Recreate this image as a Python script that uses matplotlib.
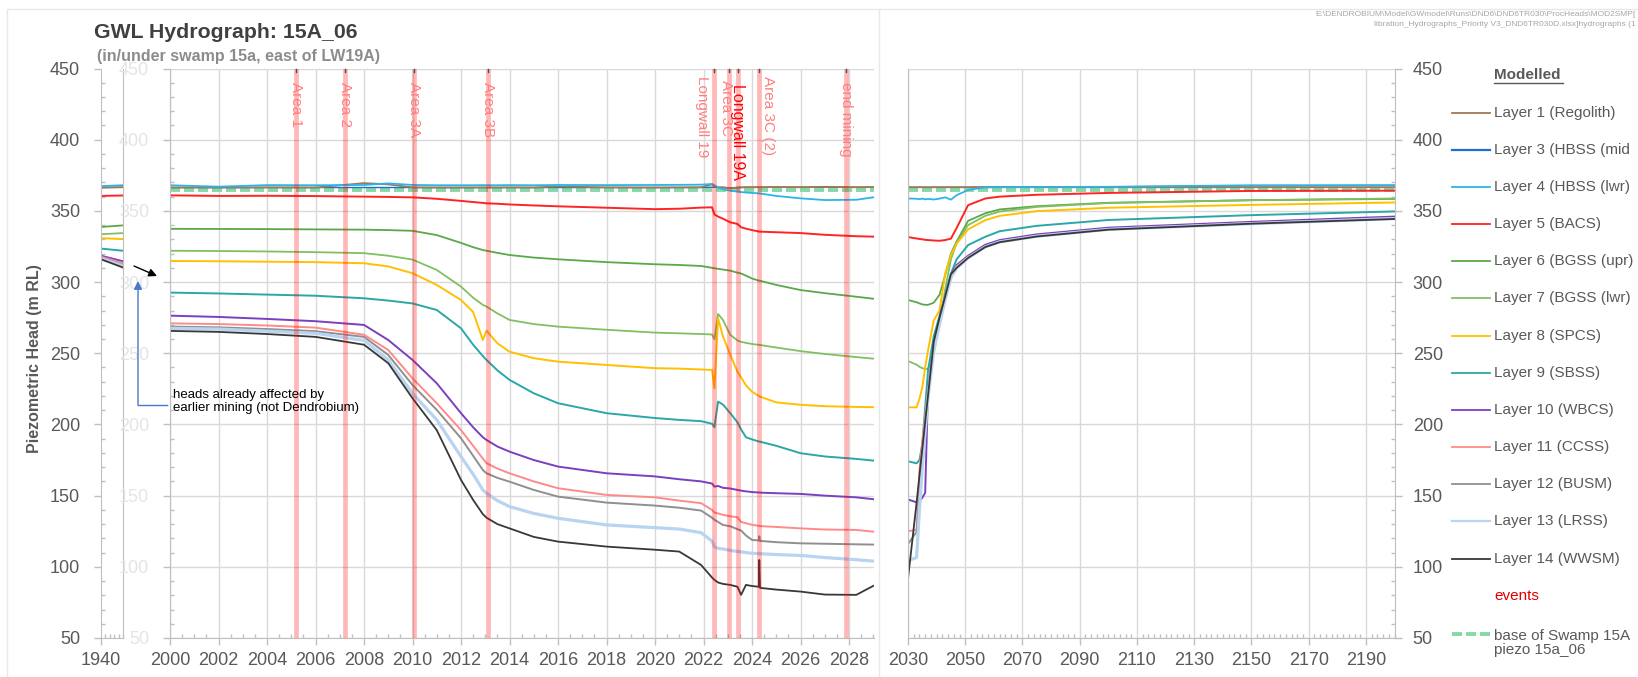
import matplotlib
matplotlib.use("Agg")
import matplotlib.pyplot as plt
from matplotlib.lines import Line2D
from matplotlib.patches import Rectangle
from matplotlib.ticker import MultipleLocator, FixedLocator

plt.rcParams['font.family'] = ['Liberation Sans', 'DejaVu Sans']

W, H = 1638, 677

# time axes of the three panels (pre-mining stub, mining period, recovery)
t_pre = [1940, 1945]
t_main = [2000, 2002, 2004, 2006, 2008, 2009, 2010, 2011, 2012, 2012.5,
          2012.9, 2013.05, 2013.5, 2014, 2015, 2016, 2018, 2020, 2021, 2021.9,
          2022.35, 2022.45, 2022.6, 2022.8, 2023.1, 2023.4, 2023.55, 2023.75,
          2024.0, 2024.28, 2024.3, 2024.33, 2025, 2026, 2027, 2028.3, 2029]
t_post = [2030, 2033, 2034, 2035, 2036, 2037, 2039, 2041, 2043, 2045, 2047,
          2051, 2057, 2062, 2075, 2100, 2150, 2200]

# modelled heads (m RL): (pre, main, post)
L1 = ([366.3, 366.6],
      [366.4, 366.4, 366.5, 366.4, 369.5, 368.6, 366.5, 366.4, 366.4, 366.4,
       366.5, 366.4, 366.4, 366.5, 366.4, 367.2, 366.5, 366.4, 366.5, 366.6,
       368.6, 367.0, 366.5, 366.5, 366.0, 366.4, 366.5, 366.6, 366.6, 366.6,
       366.6, 366.6, 366.8, 366.6, 366.9, 366.6, 366.7],
      [366.6, 366.5, 366.7, 366.5, 366.6, 366.5, 366.6, 366.6, 366.6, 366.6,
       366.6, 366.6, 366.6, 366.6, 366.6, 366.6, 366.6, 366.6])
L3 = ([366.4, 366.6],
      [366.4, 366.4, 366.4, 366.4, 366.4, 366.4, 366.4, 366.4, 366.4, 366.4,
       366.4, 366.4, 366.4, 366.4, 366.4, 366.4, 366.4, 366.4, 366.4, 366.4,
       366.6, 366.6, 366.5, 366.5, 366.0, 366.4, 366.5, 366.6, 366.6, 366.6,
       366.6, 366.6, 366.6, 366.6, 366.6, 366.6, 366.6],
      [366.6, 366.6, 366.6, 366.6, 366.6, 366.6, 366.6, 366.6, 366.6, 366.6,
       366.6, 366.6, 366.7, 366.8, 366.8, 366.9, 367.6, 367.8])
L4 = ([367.4, 368.0],
      [368.0, 367.0, 368.1, 368.0, 368.2, 369.3, 368.2, 368.0, 368.0, 368.0,
       368.1, 368.0, 368.0, 368.1, 368.0, 368.2, 368.1, 368.2, 368.3, 368.4,
       368.9, 368.0, 366.5, 365.2, 364.2, 363.5, 363.2, 362.9, 362.6, 362.3,
       362.3, 362.2, 360.5, 358.8, 357.6, 357.8, 359.5],
      [358.7, 358.5, 358.2, 358.6, 358.1, 358.4, 358.0, 358.6, 359.5, 357.9,
       361.0, 364.7, 366.5, 366.7, 366.8, 366.9, 368.0, 368.1])
L5 = ([360.5, 360.8],
      [360.9, 360.5, 360.6, 360.4, 360.0, 359.8, 359.5, 358.5, 357.0, 356.2,
       355.6, 355.3, 355.0, 354.5, 353.8, 353.2, 352.2, 351.2, 351.5, 352.3,
       352.5, 347.5, 346.0, 344.5, 342.0, 340.8, 338.5, 337.5, 336.5, 335.5,
       335.4, 335.4, 335.0, 334.4, 333.2, 332.2, 331.9],
      [331.6, 330.6, 330.3, 330.0, 329.7, 329.5, 329.2, 329.0, 329.5, 330.5,
       338.0, 354.0, 358.7, 360.0, 361.3, 362.6, 364.0, 364.2])
L6 = ([338.7, 339.8],
      [337.4, 337.3, 337.2, 337.0, 336.8, 336.5, 336.0, 333.0, 327.5, 324.5,
       322.5, 322.0, 320.5, 319.0, 317.2, 316.0, 314.0, 312.5, 312.0, 311.3,
       310.0, 309.7, 309.3, 308.8, 308.0, 306.6, 306.0, 304.5, 302.5, 301.0,
       301.0, 300.9, 298.0, 294.4, 292.2, 289.7, 288.3],
      [287.4, 285.8, 285.0, 284.3, 284.0, 284.0, 285.5, 291.0, 305.0, 320.0,
       328.5, 343.0, 348.3, 351.0, 353.3, 355.7, 357.5, 358.4])
L7 = ([333.6, 334.4],
      [322.0, 321.8, 321.5, 321.0, 320.3, 318.5, 315.8, 308.5, 296.8, 289.0,
       284.0, 282.8, 278.0, 273.4, 270.5, 268.7, 266.5, 264.5, 264.0, 263.5,
       263.2, 259.8, 277.6, 273.4, 263.0, 259.0, 258.0, 257.3, 256.5, 255.9,
       255.8, 255.8, 254.0, 251.5, 249.5, 247.3, 246.2],
      [244.5, 242.0, 240.5, 239.5, 239.0, 239.0, 250.0, 270.0, 295.0, 316.0,
       327.5, 340.0, 346.5, 349.5, 352.8, 355.5, 357.5, 358.7])
L8 = ([330.8, 330.2],
      [314.8, 314.6, 314.3, 314.0, 313.2, 311.0, 306.2, 298.0, 287.4, 279.0,
       259.3, 265.9, 257.0, 251.1, 246.5, 244.1, 241.8, 239.5, 239.2, 238.6,
       238.3, 225.4, 274.5, 262.0, 249.0, 237.0, 233.0, 227.5, 223.0, 220.0,
       219.8, 219.5, 215.5, 213.8, 212.8, 212.3, 212.1],
      [212.1, 212.0, 218.0, 226.0, 240.0, 252.0, 273.0, 280.0, 306.0, 319.0,
       327.0, 337.0, 343.5, 346.5, 349.8, 352.2, 354.2, 355.9])
L9 = ([323.5, 322.0],
      [292.6, 292.0, 291.2, 290.4, 288.6, 287.0, 285.0, 280.4, 267.5, 256.0,
       248.0, 245.3, 238.0, 231.3, 221.9, 214.9, 207.9, 204.5, 203.2, 202.3,
       200.5, 198.0, 216.0, 214.0, 208.0, 201.5, 196.5, 191.0, 189.5, 188.0,
       188.0, 187.9, 185.0, 179.8, 177.5, 175.8, 174.6],
      [174.1, 172.7, 175.0, 186.0, 212.0, 238.0, 262.0, 276.0, 290.5, 306.0,
       316.0, 326.0, 331.8, 335.7, 339.5, 343.6, 347.0, 349.6])
L10 = ([318.5, 314.6],
       [276.4, 275.5, 274.1, 272.5, 269.9, 259.3, 245.3, 228.9, 207.9, 198.0,
        191.0, 189.1, 184.5, 180.9, 175.0, 170.4, 165.7, 163.5, 161.5, 160.0,
        158.5, 156.3, 156.8, 155.5, 155.0, 154.0, 153.5, 153.0, 152.5, 152.2,
        152.2, 152.1, 151.7, 151.2, 150.0, 148.8, 147.5],
       [147.3, 145.3, 146.0, 148.5, 152.0, 225.0, 256.0, 270.0, 290.0, 305.0,
        312.0, 318.5, 326.2, 329.5, 333.5, 338.2, 342.3, 346.0])
L11 = ([317.8, 313.2],
       [271.0, 270.5, 269.5, 268.0, 263.0, 252.3, 232.4, 214.9, 196.0, 185.0,
        176.0, 172.8, 169.0, 165.7, 160.0, 155.2, 150.5, 148.8, 146.5, 144.7,
        140.0, 138.1, 137.5, 136.5, 135.5, 134.8, 131.5, 130.6, 129.5, 128.8,
        128.7, 128.6, 128.0, 127.0, 126.2, 125.9, 124.7],
       [125.1, 125.8, 168.0, 188.0, 206.0, 223.0, 255.0, 272.0, 289.0, 304.0,
        311.0, 317.5, 325.0, 328.5, 332.5, 337.2, 341.5, 345.0])
L12 = ([317.0, 312.0],
       [268.7, 268.2, 267.0, 265.5, 261.5, 248.8, 227.7, 210.2, 190.3, 178.0,
        168.0, 165.7, 162.5, 159.8, 154.0, 149.3, 145.1, 143.0, 141.5, 139.5,
        134.5, 133.0, 131.5, 129.4, 128.5, 126.4, 125.5, 122.0, 118.9, 118.5,
        121.5, 118.2, 117.3, 116.5, 116.2, 115.8, 115.6],
       [116.0, 124.5, 150.0, 178.0, 200.0, 221.0, 253.0, 271.0, 288.0, 303.5,
        310.5, 317.0, 324.8, 328.3, 332.3, 337.0, 341.2, 344.8])
L13 = ([316.6, 311.2],
       [267.5, 267.0, 265.5, 264.0, 259.0, 245.3, 221.9, 203.2, 177.4, 165.0,
        154.0, 151.7, 146.5, 142.3, 137.5, 134.1, 129.4, 127.5, 126.5, 124.0,
        118.0, 114.0, 113.0, 112.5, 111.5, 110.8, 110.5, 110.0, 109.5, 109.3,
        109.3, 109.2, 108.6, 108.0, 106.5, 105.0, 104.0],
       [104.4, 106.5, 140.0, 170.0, 195.0, 219.0, 252.0, 270.0, 288.0, 303.0,
        310.0, 317.0, 324.7, 328.2, 332.2, 337.0, 341.0, 344.6])
L14 = ([316.0, 310.2],
       [265.7, 265.0, 263.5, 261.5, 256.0, 243.0, 218.4, 196.0, 161.0, 147.0,
        137.0, 134.5, 130.0, 127.0, 121.0, 117.7, 114.2, 112.0, 110.7, 101.3,
        92.5, 90.8, 89.0, 88.0, 87.3, 86.0, 80.3, 87.3, 86.5, 86.0,
        104.8, 85.2, 84.0, 82.6, 80.5, 80.3, 86.6],
       [91.7, 145.0, 164.0, 183.0, 201.7, 220.5, 258.0, 275.0, 290.0, 305.5,
        310.0, 317.0, 324.6, 328.0, 332.0, 336.8, 341.0, 344.3])

swamp_base = 365.0

event_years = [2005.21, 2007.23, 2010.05, 2013.1, 2022.45, 2023.05, 2023.44,
               2024.29, 2027.87]
event_labels = ["Area 1", "Area 2", "Area 3A", "Area 3B", "Longwall 19",
                "Area 3C", "Longwall 19A", "Area 3C (2)", "end mining"]
# label nudges in pixels: (dx, top of text below the 450 line)
event_dx = [0, 0, 0, 0, -12, -3, -1, 9, 0]
event_top = [13, 13, 14, 14, 7, 12, 15, 7, 13]

layers = [
    ("Layer 1 (Regolith)", '#a07a52', 1.3, L1),
    ("Layer 3 (HBSS (mid", '#1f6fd0', 1.0, L3),
    ("Layer 4 (HBSS (lwr)", '#2cb4e8', 1.3, L4),
    ("Layer 5 (BACS)", '#ff2424', 1.4, L5),
    ("Layer 6 (BGSS (upr)", '#5aa84a', 1.3, L6),
    ("Layer 7 (BGSS (lwr)", '#80c060', 1.3, L7),
    ("Layer 8 (SPCS)", '#ffc000', 1.4, L8),
    ("Layer 9 (SBSS)", '#2aa7a7', 1.4, L9),
    ("Layer 10 (WBCS)", '#7a40c0', 1.4, L10),
    ("Layer 11 (CCSS)", '#ff8a8a', 1.4, L11),
    ("Layer 12 (BUSM)", '#8f8f8f', 1.4, L12),
    ("Layer 13 (LRSS)", '#b8d4f0', 2.3, L13),
    ("Layer 14 (WWSM)", '#383838', 1.3, L14),
]
draw_order = [1, 0, 2, 3, 4, 5, 6, 7, 8, 9, 10, 11, 12]

GRID = '#d9d9d9'
SPINE = '#bfbfbf'
TXT = '#595959'
SWAMP = '#86d9a6'
SWAMP_DASH = (2.6, 1.0)


def px_rect(x0, x1, y0=68.5, y1=638.0):
    return [x0 / W, 1 - y1 / H, (x1 - x0) / W, (y1 - y0) / H]


fig = plt.figure(figsize=(W / 100, H / 100), dpi=100)
ax_pre = fig.add_axes(px_rect(101, 123))
ax = fig.add_axes(px_rect(170, 874))
ax_post = fig.add_axes(px_rect(908, 1394.6))

for a in (ax_pre, ax, ax_post):
    a.set_ylim(50, 450)
    a.yaxis.set_major_locator(MultipleLocator(50))
    a.yaxis.set_minor_locator(MultipleLocator(10))
    for s in a.spines.values():
        s.set_color(SPINE)
    a.spines['top'].set_visible(False)
    a.tick_params(which='major', length=5, width=1, color=SPINE,
                  labelsize=13, labelcolor=TXT)
    a.tick_params(axis='x', which='major', pad=5)
    a.tick_params(axis='y', which='major', pad=10)
    a.tick_params(which='minor', direction='in', length=3, width=1,
                  color=SPINE)
    a.set_axisbelow(True)

# 1940 stub
ax_pre.set_xlim(1940, 1945)
ax_pre.set_xticks([1940])
ax_pre.xaxis.set_minor_locator(MultipleLocator(1))

# mining period
ax.set_xlim(2000, 2029.03)
ax.xaxis.set_major_locator(MultipleLocator(2))
ax.xaxis.set_minor_locator(MultipleLocator(0.5))
ax.spines['right'].set_visible(False)
ax.tick_params(axis='y', labelcolor='#e4e4e4')
ax.grid(True, which='major', color=GRID, lw=1)

# recovery
ax_post.set_xlim(2030, 2200)
ax_post.xaxis.set_major_locator(FixedLocator(list(range(2030, 2200, 20))))
ax_post.xaxis.set_minor_locator(MultipleLocator(2))
ax_post.yaxis.tick_right()
ax_post.tick_params(axis='y', which='major', pad=8)
ax_post.grid(True, which='major', color=GRID, lw=1)

for i in draw_order:
    name, color, lw, (pre, main, post) = layers[i]
    ax_pre.plot(t_pre, pre, color=color, lw=lw)
    ax.plot(t_main, main, color=color, lw=lw)
    ax_post.plot(t_post, post, color=color, lw=lw)

for a in (ax, ax_post):
    a.axhline(swamp_base, color=SWAMP, lw=2.8, dashes=SWAMP_DASH, zorder=1.9)

# mining events
for x, lab, dx, top in zip(event_years, event_labels, event_dx, event_top):
    ax.axvline(x, color='#ff0000', alpha=0.28, lw=3.4, zorder=5)
    ax.plot([x, x], [450, 447.5], color='#505050', lw=1, zorder=6,
            clip_on=False)
    strong = lab == "Longwall 19A"
    ax.annotate(lab, xy=(x, 450), xytext=(dx, -top), textcoords='offset pixels',
                rotation=270, ha='center', va='top',
                fontsize=11.5 if strong else 11,
                color='#ff0000' if strong else '#ff7f7f', zorder=7)

ax_pre.set_ylabel("Piezometric Head (m RL)", fontsize=11.5, fontweight='bold',
                  color=TXT)
ax_pre.yaxis.set_label_coords((42 - 101) / 22, 0.49)

# titles
fig.text(94 / W, 1 - 32 / H, "GWL Hydrograph: 15A_06", fontsize=15.3,
         fontweight='bold', color='#404040', ha='left', va='center')
fig.text(97 / W, 1 - 57 / H, "(in/under swamp 15a, east of LW19A)",
         fontsize=11.5, fontweight='bold', color='#8c8c8c', ha='left',
         va='center')
fig.text(1636 / W, 1 - 15 / H,
         r"E:\DENDROBIUM\Model\GWmodel\Runs\DND6\DND6TR030\ProcHeads\MOD2SMP[",
         fontsize=6, color='#a6a6a6', ha='right', va='center')
fig.text(1636 / W, 1 - 24 / H,
         "libration_Hydrographs_Priority V3_DND6TR030D.xlsx]hydrographs (1",
         fontsize=6, color='#a6a6a6', ha='right', va='center')

# note on the 1940 heads
BLUE = '#4a78c8'
fig.add_artist(Line2D([167 / W, 138 / W], [1 - 405 / H, 1 - 405 / H],
                      color=BLUE, lw=1))
ax.annotate('', xy=(138, H - 281), xytext=(138, H - 405),
            xycoords='figure pixels', textcoords='figure pixels',
            annotation_clip=False,
            arrowprops=dict(arrowstyle='-|>', color=BLUE, lw=1,
                            mutation_scale=12, shrinkA=0, shrinkB=0))
ax.annotate('', xy=(157, H - 276), xytext=(134, H - 266),
            xycoords='figure pixels', textcoords='figure pixels',
            annotation_clip=False,
            arrowprops=dict(arrowstyle='-|>', color='black', lw=1,
                            mutation_scale=12, shrinkA=0, shrinkB=0))
fig.text(173 / W, 1 - 401.5 / H,
         "heads already affected by\nearlier mining (not Dendrobium)",
         fontsize=9.5, color='black', ha='left', va='center', linespacing=1.1)

# legend
fig.text(1494 / W, 1 - 75 / H, "Modelled", fontsize=11, fontweight='bold',
         color=TXT, ha='left', va='center')
fig.add_artist(Line2D([1494 / W, 1563 / W], [1 - 83 / H, 1 - 83 / H],
                      color=TXT, lw=1))
for i, (name, color, lw, _) in enumerate(layers):
    y = 1 - (112.7 + 37.15 * i) / H
    fig.add_artist(Line2D([1452 / W, 1490 / W], [y, y], color=color,
                          lw=1.6 if i in (1, 11) else 1.3))
    fig.text(1494 / W, y, name, fontsize=11, color=TXT, ha='left',
             va='center')
fig.text(1494 / W, 1 - 596 / H, "events", fontsize=11, color='#e00000',
         ha='left', va='center')
y = 1 - 634 / H
fig.add_artist(Line2D([1452 / W, 1490 / W], [y, y], color=SWAMP, lw=2.8,
                      dashes=SWAMP_DASH))
fig.text(1494 / W, 1 - 643 / H, "base of Swamp 15A\npiezo 15a_06", fontsize=11,
         color=TXT, ha='left', va='center', linespacing=1.05)

# chart frame and divider
fig.add_artist(Rectangle((7 / W, -0.02), 1.1, 1 - 9 / H + 0.02,
                         transform=fig.transFigure, fill=False,
                         ec='#e8e8e8', lw=1))
fig.add_artist(Line2D([879 / W, 879 / W], [0, 1 - 9 / H], color='#e8e8e8',
                      lw=1))

fig.savefig("out.png", dpi=100, facecolor='white')
